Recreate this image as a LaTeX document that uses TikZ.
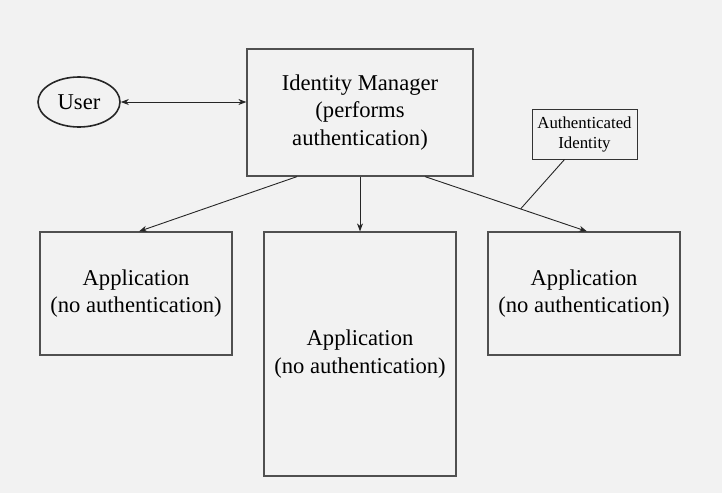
\documentclass[tikz,border=0pt]{standalone}
\usepackage{fontspec}
\setmainfont{Liberation Serif}
\usepackage{tikz}
\usetikzlibrary{arrows.meta,shapes.geometric}
\definecolor{bg}{HTML}{F2F2F2}
\definecolor{edge}{HTML}{505050}
\tikzstyle{line} = [draw, -{Stealth[length=8pt,width=6pt,inset=2.5pt]}]
\tikzstyle{box} = [draw=edge, line width=1.2pt, rectangle, inner sep=0pt, align=center, font=\fontsize{22.6}{27.5}\selectfont]

\begin{document}
\begin{tikzpicture}[x=1pt,y=-1pt]
    \useasboundingbox[fill=bg] (0,0) rectangle (722,493);
     \tikzstyle{line} = [draw=black!85, line width=0.9pt, -{Stealth[length=8pt,width=6pt,inset=2.5pt]}]

        \node[draw=black!85,ellipse,line width=1.6pt,inner sep=0pt,minimum width=82pt,minimum height=50pt,font=\fontsize{22.6}{27.5}\selectfont] (US) at (79, 102) {User};
        \node[box,minimum width=226pt,minimum height=127pt] (IM) at (360, 112.5) {Identity Manager\\(performs\\authentication)};
        \node[box,line width=1pt,draw=black!80,minimum width=105pt,minimum height=50pt,font=\fontsize{16.8}{20}\selectfont] (AI) at (584.5, 134) {Authenticated\\Identity};

        \node[box,minimum width=192pt,minimum height=123pt] (AP1) at (136, 293.5) {Application\\(no authentication)};
        \node[box,minimum width=192pt,minimum height=244pt] (AP2) at (360, 354) {Application\\(no authentication)};
        \node[box,minimum width=192pt,minimum height=123pt] (AP3) at (584, 293.5) {Application\\(no authentication)};

    \path[line,{Stealth[length=8pt,width=6pt,inset=2.5pt]}-{Stealth[length=8pt,width=6pt,inset=2.5pt]}] (US.east) -- (US.east -| IM.west);
    \path[line] ([xshift=-63pt]IM.south) -- ([xshift=3pt]AP1.north);
    \path[line] (IM.south) -- (AP2.north);
    \path[line] ([xshift=65pt]IM.south) -- coordinate[pos=0.59] (tick) ([xshift=3pt]AP3.north);
    \draw[draw=black!85, line width=0.9pt] ([xshift=-20pt]AI.south) -- (tick);

    \end{tikzpicture}
\end{document}
